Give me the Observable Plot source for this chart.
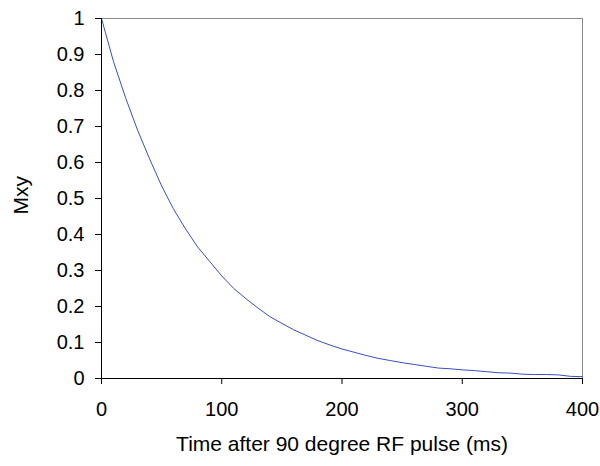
<!DOCTYPE html>
<html>
<head>
<meta charset="utf-8">
<script src="https://cdn.jsdelivr.net/npm/d3@7"></script>
<script src="https://cdn.jsdelivr.net/npm/@observablehq/plot@0.6"></script>
<style>
  html, body { margin: 0; padding: 0; background: #fff; }
</style>
</head>
<body>
<div id="chart"></div>
<script>
// Time after 90° RF pulse (ms)
const times = [0, 10, 20, 30, 40, 50, 60, 70, 80, 90, 100, 110, 120, 130, 140, 150, 160, 170, 180, 190, 200,
  210, 220, 230, 240, 250, 260, 270, 280, 290, 300, 310, 320, 330, 340, 350, 360, 370, 380, 390, 400];
// Transverse magnetisation Mxy
const mxy = [1.0, 0.88, 0.78, 0.69, 0.61, 0.535, 0.47, 0.415, 0.365, 0.325, 0.285, 0.25, 0.222, 0.196, 0.172,
  0.153, 0.135, 0.12, 0.105, 0.093, 0.082, 0.073, 0.064, 0.056, 0.05, 0.044, 0.039, 0.034, 0.029, 0.027, 0.024,
  0.022, 0.019, 0.016, 0.015, 0.012, 0.011, 0.011, 0.01, 0.006, 0.005];
const xTicks = [0, 100, 200, 300, 400];
const yTicks = [0, 0.1, 0.2, 0.3, 0.4, 0.5, 0.6, 0.7, 0.8, 0.9, 1];
const xTitle = "Time after 90 degree RF pulse (ms)";
const yTitle = "Mxy";

const data = times.map((t, i) => ({t, m: mxy[i]}));

const chart = Plot.plot({
  width: 600,
  height: 466,
  marginLeft: 101,
  marginRight: 18,
  marginTop: 18,
  marginBottom: 88,
  style: {fontFamily: "'Liberation Sans', Arial, sans-serif", fontSize: "20px", color: "#000", background: "#fff"},
  x: {domain: [0, 400]},
  y: {domain: [0, 1]},
  marks: [
    Plot.ruleY([1], {stroke: "#8a8a8a", strokeWidth: 1}),
    Plot.ruleX([400], {stroke: "#8a8a8a", strokeWidth: 1}),
    Plot.line(data, {x: "t", y: "m", stroke: "#3a4ec4", strokeWidth: 1}),
    Plot.ruleY([0], {stroke: "#000", strokeWidth: 1}),
    Plot.ruleX([0], {stroke: "#000", strokeWidth: 1}),
    Plot.axisX({ticks: xTicks, tickSize: 6, tickPadding: 17, label: null, stroke: "#000", fontSize: 20,
      tickFormat: d => String(d)}),
    Plot.axisY({ticks: yTicks, tickSize: 6, tickPadding: 11, label: null, stroke: "#000", fontSize: 20,
      tickFormat: d => String(+d.toFixed(1))}),
    Plot.text([xTitle], {frameAnchor: "bottom", dy: 72, fontSize: 21, fill: "#000"}),
    Plot.text([yTitle], {frameAnchor: "left", dx: -80, dy: 16, rotate: -90, fontSize: 21, fill: "#000"})
  ]
});
document.getElementById("chart").appendChild(chart);
</script>
</body>
</html>
